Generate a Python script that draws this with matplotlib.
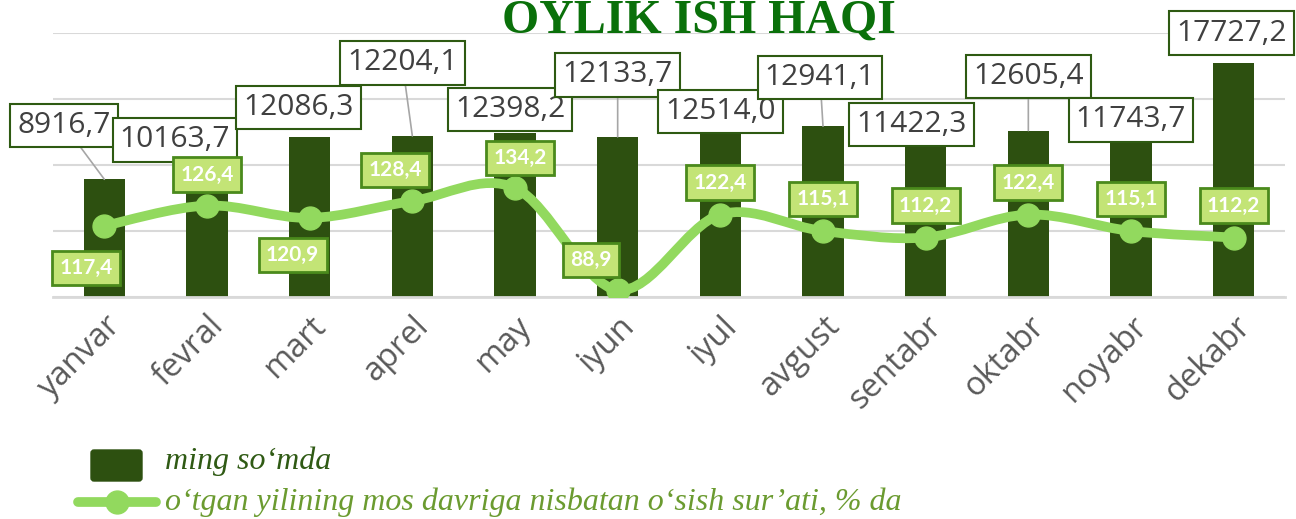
import matplotlib
matplotlib.use("Agg")
import matplotlib.pyplot as plt
from matplotlib.path import Path
from matplotlib.patches import PathPatch, FancyBboxPatch
from matplotlib.lines import Line2D
import numpy as np

# ---------------- data ----------------
months = ["yanvar", "fevral", "mart", "aprel", "may", "iyun",
          "iyul", "avgust", "sentabr", "oktabr", "noyabr", "dekabr"]
salary = [8916.7, 10163.7, 12086.3, 12204.1, 12398.2, 12133.7,
          12514.0, 12941.1, 11422.3, 12605.4, 11743.7, 17727.2]
growth = [117.4, 126.4, 120.9, 128.4, 134.2, 88.9,
          122.4, 115.1, 112.2, 122.4, 115.1, 112.2]

title_text = "OYLIK ISH HAQI"
bar_name = "ming so\u2018mda"
line_name = "o\u2018tgan yilining mos davriga nisbatan o\u2018sish sur\u2019ati, % da"

# ---------------- styling / label placement (pixels) ----------------
bar_color = "#2d5010"
line_color = "#92d95e"
lbl_fill = "#c3e476"
lbl_edge = "#4a8a1c"
bar_lbl_off = [(-40, 54), (-32, 23), (-11, 30), (-10, 73), (-5, 24), (0, 62),
               (0, 20), (-3, 49), (-14, 22), (0, 54), (0, 22), (-2, 30)]
leader = [True, False, False, True, False, True, False, True, False, True, False, False]
line_lbl_off = [(-18, -42), (0, 31), (-17, -37), (-17, 31), (5, 30), (-27, 30),
                (0, 32), (0, 32), (0, 32), (0, 32), (0, 32), (0, 32)]

W, H = 1296, 519
fig = plt.figure(figsize=(W / 100, H / 100), dpi=100)
fig.patch.set_facecolor("white")

ax_left, ax_right, ax_top, ax_bottom = 53, 1285, 33, 297
ax = fig.add_axes([ax_left / W, 1 - ax_bottom / H, (ax_right - ax_left) / W, (ax_bottom - ax_top) / H])
x = np.arange(len(months))

ax.bar(x, salary, width=0.4, color=bar_color, zorder=2)
ax.set_xlim(-0.5, len(months) - 0.5)
ax.set_ylim(0, 20000)
ax.set_yticks([0, 5000, 10000, 15000, 20000])
ax.yaxis.grid(True, color="#d9d9d9", lw=1.5, zorder=0)
ax.set_axisbelow(True)
for s in ["top", "left", "right"]:
    ax.spines[s].set_visible(False)
ax.spines["bottom"].set_color("#d9d9d9")
ax.spines["bottom"].set_linewidth(2)
ax.set_xticks(x)
ax.set_xticklabels(months, rotation=45, ha="right", rotation_mode="anchor",
                   fontsize=23.5, color="#595959", family="Open Sans")
ax.tick_params(axis="x", length=0, pad=9)

# bar data labels
for i, (v, off) in enumerate(zip(salary, bar_lbl_off)):
    ap = dict(arrowstyle="-", color="#a6a6a6", lw=1.2, shrinkA=0, shrinkB=0) if leader[i] else None
    ax.annotate(f"{v:.1f}".replace(".", ","), xy=(i, v), xytext=off,
                textcoords="offset pixels", ha="center", va="center",
                fontsize=21.5, color="#404040", family="Open Sans",
                bbox=dict(boxstyle="square,pad=0.24", fc="white", ec="#2e5a12", lw=1.5),
                arrowprops=ap, zorder=5)

# secondary axis: growth line
ax2 = ax.twinx()
ax2.set_ylim(85.8, 203.0)
ax2.axis("off")
ax.tick_params(axis="y", left=False, right=False, labelleft=False, labelright=False)

pts = np.column_stack([x, growth]).astype(float)
verts = [pts[0]]
codes = [Path.MOVETO]
n = len(pts)
for i in range(n - 1):
    p0 = pts[i - 1] if i > 0 else pts[i]
    p1 = pts[i]
    p2 = pts[i + 1]
    p3 = pts[i + 2] if i + 2 < n else pts[i + 1]
    verts += [p1 + (p2 - p0) / 6.0, p2 - (p3 - p1) / 6.0, p2]
    codes += [Path.CURVE4] * 3
ax2.add_patch(PathPatch(Path(verts, codes), fc="none", ec=line_color, lw=7,
                        capstyle="round", joinstyle="round", zorder=3))
ax2.plot(x, growth, "o", ms=16.5, color=line_color, zorder=4)

for i, (v, off) in enumerate(zip(growth, line_lbl_off)):
    ax2.annotate(f"{v:.1f}".replace(".", ","), xy=(i, v), xytext=off,
                 textcoords="offset pixels", ha="center", va="center",
                 fontsize=15, fontweight="bold", color="white", family="Lato",
                 bbox=dict(boxstyle="square,pad=0.35", fc=lbl_fill, ec=lbl_edge, lw=2),
                 zorder=6)

# overlay in pixel coords for title and legend
ov = fig.add_axes([0, 0, 1, 1], zorder=10)
ov.set_xlim(0, W)
ov.set_ylim(H, 0)
ov.axis("off")
ov.patch.set_alpha(0)

ov.text(699, 33, title_text, ha="center", va="baseline", fontsize=34.5,
        fontweight="bold", family="Liberation Serif", color="#0a700a")

# legend
ov.add_patch(FancyBboxPatch((91, 450), 51, 31, boxstyle="round,pad=0,rounding_size=3",
                            fc=bar_color, ec=bar_color))
ov.text(165, 461, bar_name, ha="left", va="center", fontsize=23, style="italic",
        family="Liberation Serif", color="#2f5a14")
ov.add_line(Line2D([78, 156], [502, 502], color=line_color, lw=7, solid_capstyle="round"))
ov.add_line(Line2D([117], [502], marker="o", ms=16.5, color=line_color))
ov.text(165, 502, line_name, ha="left", va="center", fontsize=23, style="italic",
        family="Liberation Serif", color="#6b9b30")

fig.savefig("out.png", dpi=100)
